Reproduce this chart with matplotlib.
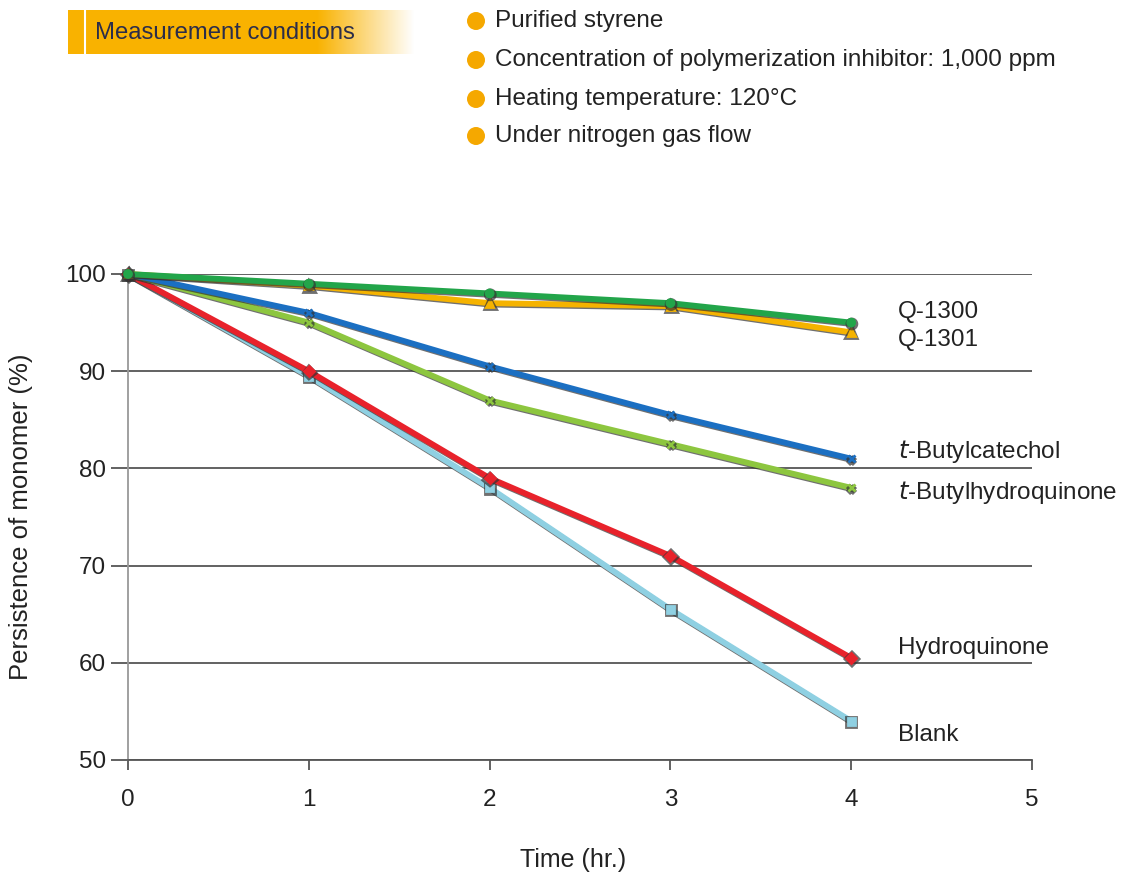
import matplotlib
matplotlib.use("Agg")
import matplotlib.pyplot as plt
import matplotlib.patheffects as pe
import numpy as np
from matplotlib.patches import Ellipse

plt.rcParams['font.family'] = ['Liberation Sans', 'DejaVu Sans']

time = [0, 1, 2, 3, 4]
series_names = ["Q-1300", "Q-1301", "t-Butylcatechol", "t-Butylhydroquinone", "Hydroquinone", "Blank"]
label_texts = ["Q-1300", "Q-1301", "$\\it{t}$-Butylcatechol", "$\\it{t}$-Butylhydroquinone", "Hydroquinone", "Blank"]
q1300 = [100, 99, 98, 97, 95]
q1301 = [100, 98.8, 97, 96.7, 94]
tbc = [100, 96, 90.5, 85.5, 81]
tbhq = [100, 95, 87, 82.5, 78]
hq = [100, 90, 79, 71, 60.5]
blank = [100, 89.5, 78, 65.5, 54]
label_y = [96.1, 93.2, 81.7, 77.5, 61.5, 52.6]
conditions = ["Purified styrene",
              "Concentration of polymerization inhibitor: 1,000 ppm",
              "Heating temperature: 120°C",
              "Under nitrogen gas flow"]

colors = ["#22a54a", "#f5b300", "#1b6fc2", "#8dc63f", "#e8222b", "#8fd0e2"]
markers = ["o", "^", "x", "x", "D", "s"]
data = [q1300, q1301, tbc, tbhq, hq, blank]

fig = plt.figure(figsize=(11.24, 8.74), dpi=100)
ax = fig.add_axes([128/1124, 1-760/874, (1032-128)/1124, (760-274)/874])

order = [5, 4, 3, 2, 1, 0]
for k, i in enumerate(order):
    ax.plot(time, data[i], color=colors[i], lw=4.2, marker=markers[i], ms=5, mew=2,
            mec=colors[i], mfc=colors[i], zorder=3 + k * 0.1,
            path_effects=[pe.SimpleLineShadow(offset=(0.5, -1.0), shadow_color='#333333', alpha=0.7, linewidth=4.2),
                          pe.Normal()], clip_on=False)

ax.set_xlim(0, 5)
ax.set_ylim(50, 100)
ax.set_xticks([0, 1, 2, 3, 4, 5])
ax.set_yticks([50, 60, 70, 80, 90, 100])
ax.yaxis.grid(True, color='#555555', lw=1.3)
ax.set_axisbelow(True)
for s in ['top', 'right']:
    ax.spines[s].set_visible(False)
ax.spines['left'].set_color('#999999')
ax.spines['left'].set_linewidth(1.3)
ax.spines['bottom'].set_color('#555555')
ax.spines['bottom'].set_linewidth(1.3)
ax.tick_params(axis='y', length=12, color='#555555', width=1.3, labelsize=17.5, pad=4)
ax.tick_params(axis='x', length=7, color='#555555', width=1.3, labelsize=17.5, pad=14)
for t in ax.get_xticklabels() + ax.get_yticklabels():
    t.set_color('#222222')

fig.text(21/1124, 1-517/874, "Persistence of monomer (%)", fontsize=18.5, color='#222222',
         rotation=90, va='center', ha='center')
fig.text(573/1124, 1-860/874, "Time (hr.)", fontsize=18, color='#222222', va='center', ha='center')

for i in range(6):
    ax.text(4.26, label_y[i], label_texts[i], fontsize=17.5, color='#222222', va='center', ha='left')

# header box with gradient
grad = np.linspace(0, 1, 256)
img = np.zeros((1, 256, 4))
img[..., 0] = 0.98
img[..., 1] = 0.70
img[..., 2] = 0.0
img[..., 3] = np.where(grad < 0.72, 1.0, np.clip(1 - (grad - 0.72) / 0.28, 0, 1))
hax = fig.add_axes([68/1124, 1-54/874, (415-68)/1124, 44/874])
hax.imshow(img, aspect='auto', extent=[0, 1, 0, 1])
hax.set_xlim(0, 1); hax.set_ylim(0, 1)
hax.axis('off')
hax.axvline(17/347, color='white', lw=1.5)
fig.text(95/1124, 1-33/874, "Measurement conditions", fontsize=17.2, color='#2b2d4a', va='center', ha='left')

bullet_y = [21, 60, 99, 136]
for yb, txt in zip(bullet_y, conditions):
    fig.add_artist(Ellipse((476/1124, 1-yb/874), 18/1124, 18/874, transform=fig.transFigure,
                           facecolor='#f5a800', edgecolor='none'))
    fig.text(495/1124, 1-yb/874, txt, fontsize=17.5, color='#222222', va='center', ha='left')

fig.savefig("out.png", dpi=100)
